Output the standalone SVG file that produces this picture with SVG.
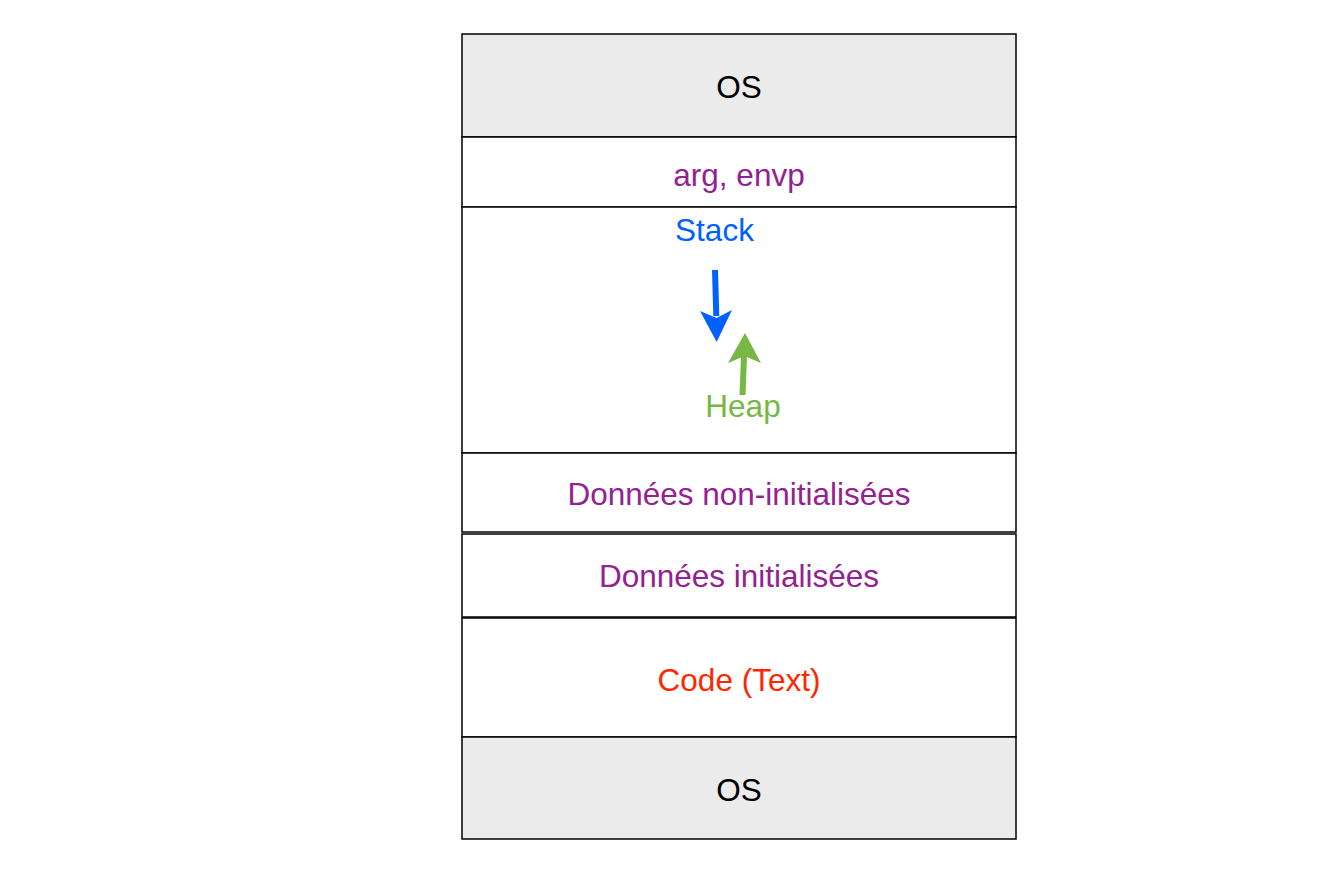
<svg xmlns="http://www.w3.org/2000/svg" width="1340" height="873" viewBox="0 0 1340 873">
<style>
.box{stroke:#000;stroke-width:1.5;fill:#fff}
.os{fill:#ebebeb}
text{font-family:"Liberation Sans",Arial,Helvetica,sans-serif;font-size:31.5px;text-anchor:middle}
.purple{fill:#942192}
.black{fill:#000}
.red{fill:#ff2600}
.blue{fill:#0061fe}
.green{fill:#77b844}
</style>
<rect width="1340" height="873" fill="#fff"/>
<g id="os-top"><rect class="box os" x="462" y="34" width="554" height="103"/><text class="black" x="739" y="98">OS</text></g>
<g id="arg-envp"><rect class="box" x="462" y="137" width="554" height="70"/><text class="purple" x="739" y="186">arg, envp</text></g>
<g id="stack-heap"><rect class="box" x="462" y="207" width="554" height="246"/>
<text class="blue" x="714.5" y="241">Stack</text>
<text class="green" x="743" y="417">Heap</text></g>
<g id="non-init"><rect class="box" x="462" y="453" width="554" height="79"/><text class="purple" x="739" y="505">Données non-initialisées</text></g>
<g id="init"><rect class="box" x="462" y="534" width="554" height="83"/><text class="purple" x="739" y="587">Données initialisées</text></g>
<g id="code"><rect class="box" x="462" y="618" width="554" height="119"/><text class="red" x="739" y="691">Code (Text)</text></g>
<g id="os-bottom"><rect class="box os" x="462" y="737" width="554" height="102"/><text class="black" x="739" y="801">OS</text></g>
<g id="connectors">
<path d="M715 270 L716.3 316" stroke="#0061fe" stroke-width="6" fill="none"/>
<path d="M716.7 342 L700 311 L716.5 318 L732 310 Z" fill="#0061fe"/>
<path d="M742.5 395 L744 356" stroke="#77b844" stroke-width="6" fill="none"/>
<path d="M745 333 L761 363 L744.5 356 L728 363 Z" fill="#77b844"/>
</g>
</svg>
